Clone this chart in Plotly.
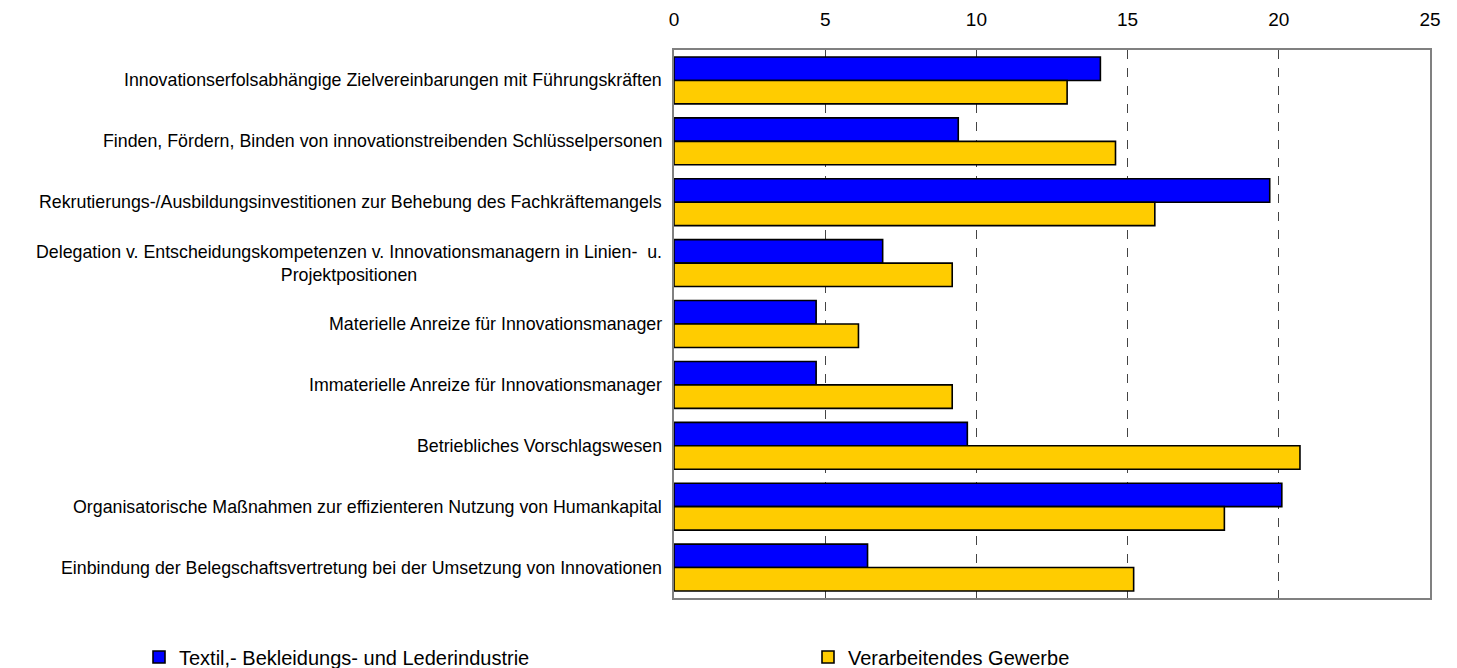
import plotly.graph_objects as go

categories = [
    "Innovationserfolsabhängige Zielvereinbarungen mit Führungskräften",
    "Finden, Fördern, Binden von innovationstreibenden Schlüsselpersonen",
    "Rekrutierungs-/Ausbildungsinvestitionen zur Behebung des Fachkräftemangels",
    "Delegation v. Entscheidungskompetenzen v. Innovationsmanagern in Linien-  u.<br>Projektpositionen",
    "Materielle Anreize für Innovationsmanager",
    "Immaterielle Anreize für Innovationsmanager",
    "Betriebliches Vorschlagswesen",
    "Organisatorische Maßnahmen zur effizienteren Nutzung von Humankapital",
    "Einbindung der Belegschaftsvertretung bei der Umsetzung von Innovationen",
]
series_names = ["Textil,- Bekleidungs- und Lederindustrie", "Verarbeitendes Gewerbe"]
textil = [14.1, 9.4, 19.7, 6.9, 4.7, 4.7, 9.7, 20.1, 6.4]
verarbeitend = [13.0, 14.6, 15.9, 9.2, 6.1, 9.2, 20.7, 18.2, 15.2]
tick_vals = [0, 5, 10, 15, 20, 25]

colors = ["#0000FF", "#FFCC00"]
legend_ids = ["legend", "legend2"]
FONT = "Liberation Sans, Arial, sans-serif"

W, H = 1449, 660  # page has 8px body margin

fig = go.Figure()
for name, vals, col, lg in zip(series_names, [textil, verarbeitend], colors, legend_ids):
    fig.add_trace(go.Bar(
        y=categories, x=vals, orientation="h", name=name, legend=lg,
        marker=dict(color=col, line=dict(color="black", width=1.6)),
    ))

for c in categories:
    fig.add_annotation(
        x=0, xref="paper", y=c, yref="y", text=c, showarrow=False,
        xanchor="right", align="center", xshift=-10,
        font=dict(family=FONT, size=17.8, color="black"),
    )

legend_common = dict(
    orientation="h", xref="container", yref="container",
    xanchor="left", yanchor="middle", y=(H - 649) / H,
    font=dict(size=20, family=FONT, color="black"),
    bgcolor="rgba(0,0,0,0)", borderwidth=0, itemwidth=30,
)

fig.update_layout(
    width=W, height=H,
    margin=dict(l=666, r=27, t=42, b=70, autoexpand=False),
    paper_bgcolor="white", plot_bgcolor="white",
    barmode="group", bargap=0.23, bargroupgap=0,
    font=dict(family=FONT, color="black"),
    showlegend=True,
    legend=dict(x=131 / W, **legend_common),
    legend2=dict(x=800 / W, **legend_common),
    xaxis=dict(
        side="top", range=[0, 25], tickvals=tick_vals,
        showgrid=True, gridcolor="#444444", griddash="dash", gridwidth=1,
        showline=True, linecolor="#808080", linewidth=2, mirror=True,
        ticks="", tickfont=dict(size=19, family=FONT), ticklabelstandoff=14,
        zeroline=False,
    ),
    yaxis=dict(
        autorange="reversed", showticklabels=False, ticks="",
        showline=True, linecolor="#808080", linewidth=2, mirror=True,
        showgrid=False,
    ),
)

fig.write_html("out.html")
